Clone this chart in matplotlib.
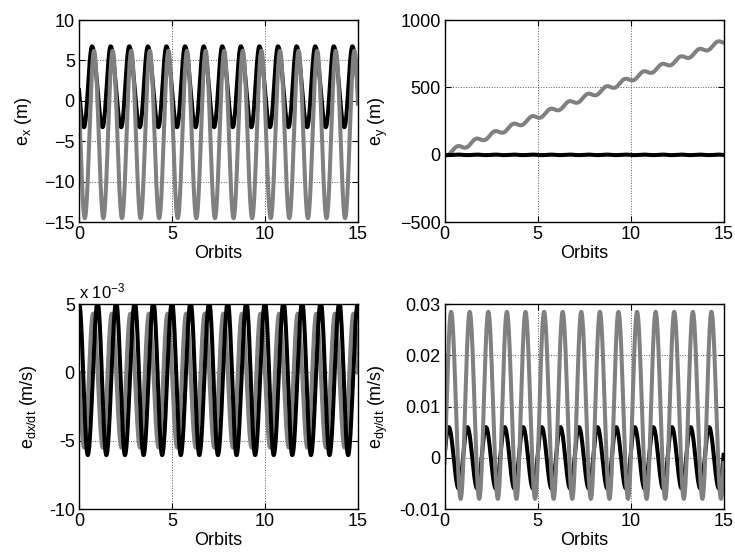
import matplotlib
matplotlib.use('Agg')
import matplotlib.pyplot as plt
import numpy as np
from matplotlib.ticker import FuncFormatter

plt.rcParams['font.family'] = ['Liberation Sans', 'DejaVu Sans']
plt.rcParams['font.size'] = 13
plt.rcParams['mathtext.default'] = 'regular'

# time axis (orbits)
orbits = np.linspace(0, 15, 4001)

# wave parameters: [mean, amplitude, orbit of peak, fraction of period from peak to trough]
ex_black = [1.75, 5.0, 0.70, 0.57]
ex_gray = [-4.15, 10.35, 0.81, 0.50]

ey_black = [0.0, 2.0, 0.70, 0.50]
ey_gray = [8.0, 18.0, 0.67, 0.50]
ey_gray_drift = 55.5          # m per orbit
ey_black_drift = 0.0

edx_black = [-0.45e-3, 5.6e-3, 0.00, 0.47]
edx_gray = [-0.6e-3, 4.9e-3, 0.76, 0.52]

edy_black = [0.0, 0.006, 0.22, 0.53]
edy_gray = [0.01025, 0.01825, 0.345, 0.515]

# axes limits / ticks
ex_ylim, ex_yticks = (-15, 10), [-15, -10, -5, 0, 5, 10]
ey_ylim, ey_yticks = (-500, 1000), [-500, 0, 500, 1000]
edx_ylim, edx_yticks = (-10e-3, 5e-3), [-10e-3, -5e-3, 0, 5e-3]
edy_ylim, edy_yticks = (-0.01, 0.03), [-0.01, 0, 0.01, 0.02, 0.03]
xticks = [0, 5, 10, 15]

GRAY = '#808080'
LW = 2.9


def wave(t, params):
    mean, amp, t_peak, fall = params
    u = np.mod(t - t_peak, 1.0)
    theta = np.where(u < fall, np.pi * u / fall,
                     np.pi + np.pi * (u - fall) / (1 - fall))
    return mean + amp * np.cos(theta)


def style_axes(ax, ylim, yticks, ylabel):
    ax.set_xlim(0, 15)
    ax.set_ylim(*ylim)
    ax.set_xticks(xticks)
    ax.set_yticks(yticks)
    ax.set_xlabel('Orbits', labelpad=1)
    ax.set_ylabel(ylabel, labelpad=7)
    ax.grid(True, linestyle=':', color='0.35', linewidth=0.7)
    ax.tick_params(direction='in', length=4, width=0.8, top=True, right=True, pad=3)
    for s in ax.spines.values():
        s.set_linewidth(1.0)


fig = plt.figure(figsize=(7.35, 5.57), dpi=100)
ax1 = fig.add_axes([0.1075, 0.601, 0.3795, 0.363])
ax2 = fig.add_axes([0.605, 0.601, 0.3795, 0.363])
ax3 = fig.add_axes([0.1075, 0.086, 0.3795, 0.368])
ax4 = fig.add_axes([0.605, 0.086, 0.3795, 0.368])

# e_x
ax1.plot(orbits, wave(orbits, ex_black), color='k', lw=LW)
ax1.plot(orbits, wave(orbits, ex_gray), color=GRAY, lw=LW)
style_axes(ax1, ex_ylim, ex_yticks, r'e$_x$ (m)')

# e_y
ax2.plot(orbits, ey_gray_drift * orbits + wave(orbits, ey_gray), color=GRAY, lw=LW)
ax2.plot(orbits, ey_black_drift * orbits + wave(orbits, ey_black), color='k', lw=LW)
style_axes(ax2, ey_ylim, ey_yticks, r'e$_y$ (m)')

# e_dx/dt
ax3.plot(orbits, wave(orbits, edx_gray), color=GRAY, lw=LW)
ax3.plot(orbits, wave(orbits, edx_black), color='k', lw=LW)
style_axes(ax3, edx_ylim, edx_yticks, r'e$_{dx/dt}$ (m/s)')
ax3.yaxis.set_major_formatter(FuncFormatter(lambda v, p: '%g' % round(v * 1e3, 6)))
ax3.text(0.0, 1.012, r'x 10$^{-3}$', transform=ax3.transAxes, fontsize=12, ha='left', va='bottom')

# e_dy/dt
ax4.plot(orbits, wave(orbits, edy_black), color='k', lw=LW)
ax4.plot(orbits, wave(orbits, edy_gray), color=GRAY, lw=LW)
style_axes(ax4, edy_ylim, edy_yticks, r'e$_{dy/dt}$ (m/s)')
ax4.yaxis.set_major_formatter(FuncFormatter(lambda v, p: '%g' % round(v, 6)))

fig.savefig('out.png', dpi=100)
